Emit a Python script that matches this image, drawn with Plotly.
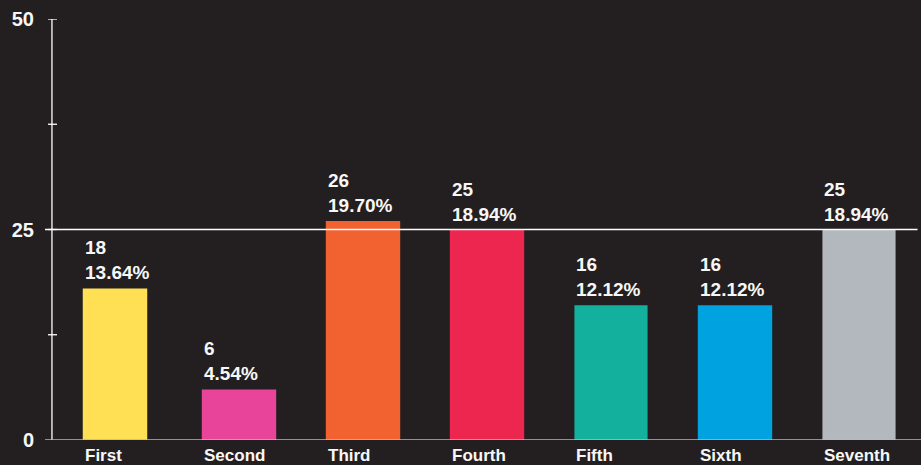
import plotly.graph_objects as go

# Results per position
categories = ["First", "Second", "Third", "Fourth", "Fifth", "Sixth", "Seventh"]
counts = [18, 6, 26, 25, 16, 16, 25]
percents = ["13.64%", "4.54%", "19.70%", "18.94%", "12.12%", "12.12%", "18.94%"]
y_ticks = [0, 25, 50]
y_minor = [12.5, 37.5]

colors = ["#FFE055", "#E8459A", "#F26130", "#EC264F", "#14B09E", "#00A3E0", "#B3B8BF"]
widths = [0.52, 0.6, 0.6, 0.6, 0.59, 0.6, 0.59]
BG = "#231F20"
TXT = "#F7F7F7"
FONT = "Liberation Sans"

xs = list(range(len(categories)))

fig = go.Figure(
    go.Bar(
        x=xs,
        y=counts,
        width=widths,
        marker=dict(color=colors, line=dict(width=0)),
        hoverinfo="skip",
    )
)

annotations = []
for i, (c, p, w) in enumerate(zip(counts, percents, widths)):
    left = i - w / 2
    annotations.append(dict(
        x=left, y=c, xref="x", yref="y", xanchor="left", yanchor="bottom",
        text=f"<b>{c}<br>{p}</b>", showarrow=False, align="left",
        font=dict(family=FONT, size=19, color=TXT), yshift=3,
    ))
    annotations.append(dict(
        x=left, y=0, xref="x", yref="y", xanchor="left", yanchor="top",
        text=f"<b>{categories[i]}</b>", showarrow=False, align="left",
        font=dict(family=FONT, size=17, color=TXT), yshift=-4,
    ))

shapes = []
# vertical axis line
shapes.append(dict(type="line", xref="paper", yref="y", x0=-0.0012, x1=-0.0012,
                   y0=0, y1=50, line=dict(color="#FFFFFF", width=1.3)))
# crossing tick marks
for t in y_ticks[1:] + y_minor:
    shapes.append(dict(type="line", xref="paper", yref="y", x0=-0.0058, x1=0.0046,
                       y0=t, y1=t, line=dict(color="#FFFFFF", width=1.3)))
# reference line at 25
shapes.append(dict(type="line", xref="paper", yref="y", x0=-0.0092, x1=0.996,
                   y0=25, y1=25, line=dict(color="#FFFFFF", width=1.3)))
# baseline
shapes.append(dict(type="line", xref="paper", yref="y", x0=-0.0092, x1=1,
                   y0=0, y1=0, line=dict(color="#B8B8B8", width=1.3)))

fig.update_layout(
    width=921, height=465,
    margin=dict(l=53, r=0, t=19, b=25),
    paper_bgcolor=BG, plot_bgcolor=BG,
    showlegend=False,
    bargap=0.4,
    xaxis=dict(range=[-0.5, 6.5], showticklabels=False, showgrid=False,
               zeroline=False, showline=False, ticks=""),
    yaxis=dict(range=[0, 50], tickvals=y_ticks, ticktext=[f"<b>{t}</b>" for t in y_ticks],
               showgrid=False, zeroline=False, showline=False, ticks="",
               ticklabelstandoff=18,
               tickfont=dict(family=FONT, size=20, color=TXT)),
    annotations=annotations,
    shapes=shapes,
)

fig.write_html("out.html")
